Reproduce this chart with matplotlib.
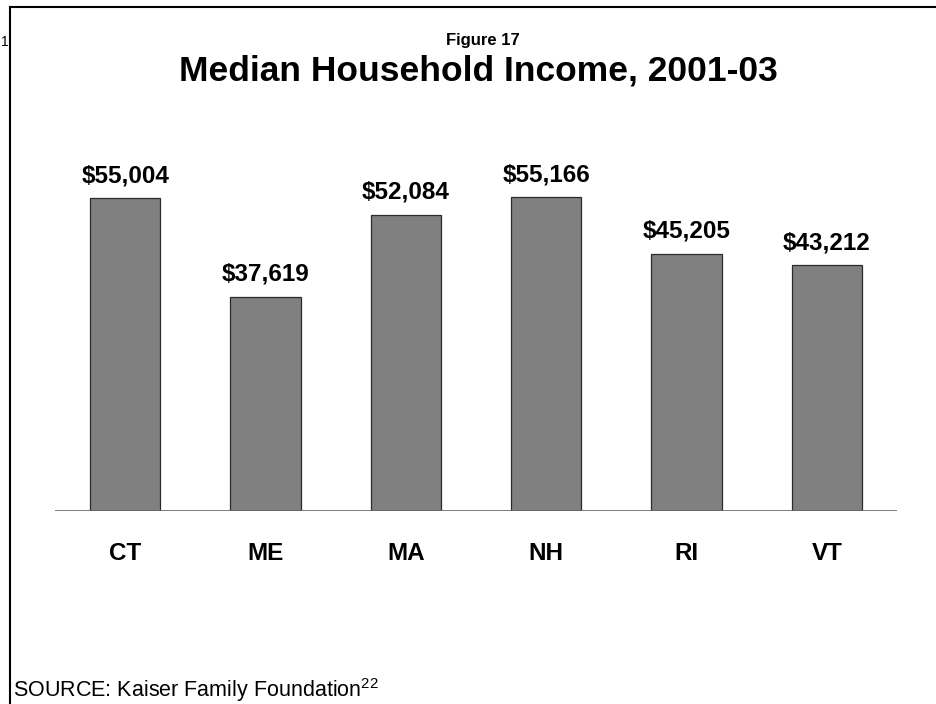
import matplotlib
matplotlib.use("Agg")
import matplotlib.pyplot as plt
from matplotlib.lines import Line2D

plt.rcParams['font.family'] = ['Liberation Sans', 'DejaVu Sans']
plt.rcParams['mathtext.fontset'] = 'custom'
plt.rcParams['mathtext.rm'] = 'Liberation Sans'

states = ["CT", "ME", "MA", "NH", "RI", "VT"]
incomes = [55004, 37619, 52084, 55166, 45205, 43212]
valueLabels = ["$55,004", "$37,619", "$52,084", "$55,166", "$45,205", "$43,212"]

W, H = 937, 704
fig = plt.figure(figsize=(W / 100, H / 100), dpi=100)

# axes placed in pixel terms: baseline at y=511, x from 55 to 897
pxPerUnit = 313 / 55004
yTop = 60000
axLeft, axRight, axBase = 55, 897, 511
ax = fig.add_axes([axLeft / W, (H - axBase) / H, (axRight - axLeft) / W, yTop * pxPerUnit / H])

xs = range(len(states))
ax.bar(xs, incomes, width=0.5, color="#808080", edgecolor="#2b2b2b", linewidth=0.9, zorder=2)
ax.set_xlim(-0.5, len(states) - 0.5)
ax.set_ylim(0, yTop)
ax.axhline(0, color="#666666", linewidth=1.2, zorder=3)
for s in ax.spines.values():
    s.set_visible(False)
ax.set_xticks([])
ax.set_yticks([])

for x, v, lab in zip(xs, incomes, valueLabels):
    ax.annotate(lab, (x, v), xytext=(0, 11.5), textcoords="offset points",
                ha="center", va="baseline", fontsize=17.5, fontweight="bold")
    ax.annotate(states[x], (x, 0), xytext=(0, -35.3), textcoords="offset points",
                ha="center", va="baseline", fontsize=17.5, fontweight="bold")

# titles
fig.text(483 / W, 1 - 45 / H, "Figure 17", ha="center", va="baseline", fontsize=12, fontweight="bold")
fig.text(478 / W, 1 - 81 / H, "Median Household Income, 2001-03", ha="center", va="baseline",
         fontsize=25.5, fontweight="bold")

# source note
fig.text(13 / W, 1 - 697 / H, r"SOURCE: Kaiser Family Foundation$^{\mathrm{22}}$", ha="left", va="baseline",
         fontsize=15.5)

# stray page number at left edge
fig.text(1 / W, 1 - 46 / H, "1", ha="left", va="baseline", fontsize=10)

# frame lines (top and left)
fig.add_artist(Line2D([10 / W, 1], [1 - 7 / H, 1 - 7 / H], color="black", linewidth=1.5, transform=fig.transFigure))
fig.add_artist(Line2D([10 / W, 10 / W], [0, 1 - 7 / H], color="black", linewidth=1.5, transform=fig.transFigure))

fig.savefig("out.png", dpi=100)
